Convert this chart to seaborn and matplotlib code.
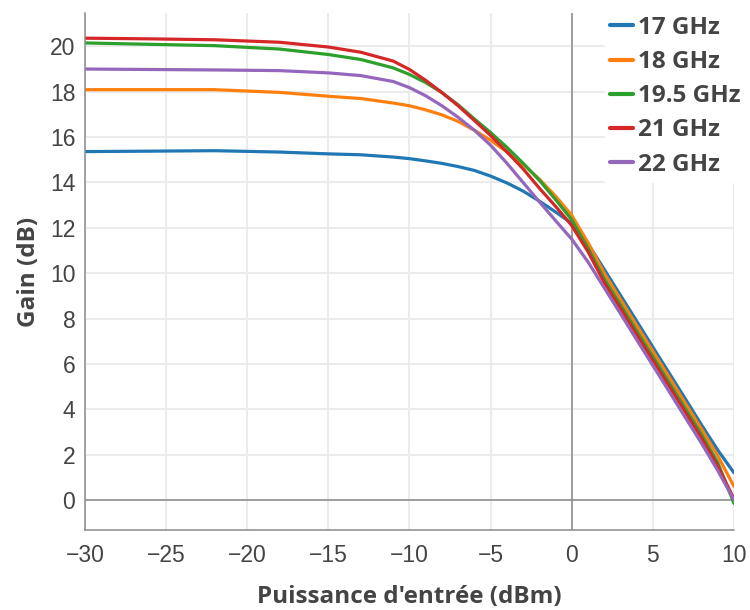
import pandas as pd
import matplotlib.pyplot as plt
import seaborn as sns

# Puissance d'entrée (dBm)
puissance = [-30, -26, -22, -18, -15, -13, -11, -10, -9, -8, -7, -6, -5, -4, -3,
             -2, -1, 0, 1, 2, 3, 4, 5, 6, 7, 8, 9, 10]

# Gain (dB) par fréquence
gain_17 = [15.36, 15.38, 15.40, 15.34, 15.26, 15.22, 15.12, 15.05, 14.95, 14.84,
           14.70, 14.53, 14.28, 13.98, 13.62, 13.18, 12.70, 12.20, 11.30, 10.17,
           9.03, 7.89, 6.74, 5.60, 4.46, 3.31, 2.20, 1.20]
gain_18 = [18.09, 18.09, 18.09, 17.97, 17.80, 17.70, 17.50, 17.38, 17.20, 16.98,
           16.69, 16.30, 15.86, 15.35, 14.80, 14.15, 13.40, 12.55, 11.35, 10.00,
           8.85, 7.70, 6.56, 5.42, 4.27, 3.13, 1.95, 0.60]
gain_195 = [20.15, 20.09, 20.03, 19.88, 19.64, 19.42, 19.05, 18.76, 18.40, 17.96,
            17.42, 16.80, 16.20, 15.55, 14.85, 14.10, 13.25, 12.35, 11.10, 9.75,
            8.61, 7.46, 6.32, 5.18, 4.03, 2.89, 1.65, -0.15]
gain_21 = [20.36, 20.33, 20.29, 20.18, 19.97, 19.74, 19.35, 18.98, 18.50, 17.96,
           17.38, 16.73, 16.07, 15.35, 14.60, 13.75, 12.95, 12.10, 10.95, 9.59,
           8.45, 7.30, 6.16, 5.02, 3.88, 2.73, 1.50, 0.05]
gain_22 = [19.00, 18.98, 18.96, 18.93, 18.83, 18.71, 18.45, 18.18, 17.82, 17.38,
           16.87, 16.30, 15.64, 14.85, 14.00, 13.15, 12.32, 11.50, 10.50, 9.36,
           8.22, 7.07, 5.93, 4.79, 3.64, 2.50, 1.30, 0.00]

frequences = ["17 GHz", "18 GHz", "19.5 GHz", "21 GHz", "22 GHz"]
couleurs = ["#1f77b4", "#ff7f0e", "#2ca02c", "#d62728", "#9467bd"]
gains = [gain_17, gain_18, gain_195, gain_21, gain_22]

df = pd.concat(
    [pd.DataFrame({"puissance": puissance, "gain": g, "freq": f})
     for f, g in zip(frequences, gains)],
    ignore_index=True,
)

sns.set_style("white")
plt.rcParams["font.family"] = ["Liberation Sans", "DejaVu Sans"]

fig = plt.figure(figsize=(7.5, 6.1), dpi=100)
ax = fig.add_axes([85 / 750, 80 / 610, 649 / 750, 517 / 610])

sns.lineplot(data=df, x="puissance", y="gain", hue="freq", palette=couleurs,
             hue_order=frequences, estimator=None, linewidth=2.3, ax=ax)

ax.set_xlim(-30, 10)
ax.set_ylim(-1.32, 21.47)
ax.set_xticks(range(-30, 11, 5))
ax.set_yticks(range(0, 21, 2))
ax.grid(True, color="#ebebeb", linewidth=1.5)
ax.set_axisbelow(True)
ax.axhline(0, color="#8a8a8a", linewidth=1.1, zorder=1.5)
ax.axvline(0, color="#8a8a8a", linewidth=1.1, zorder=1.5)

for side in ["top", "right"]:
    ax.spines[side].set_visible(False)
for side in ["left", "bottom"]:
    ax.spines[side].set_color("#8a8a8a")
    ax.spines[side].set_linewidth(1.1)

ax.tick_params(axis="both", width=1, color="#8a8a8a",
               labelsize=16.5, labelcolor="#444444")
ax.tick_params(axis="y", length=5, direction="out", pad=2)
ax.tick_params(axis="x", length=5, direction="in", pad=10)

ax.set_xlabel("Puissance d'entrée (dBm)", fontsize=17.5, fontweight="bold",
              color="#444444", family="Open Sans", labelpad=13)
ax.set_ylabel("Gain (dB)", fontsize=17.5, fontweight="bold",
              color="#444444", family="Open Sans", labelpad=6)

leg = ax.legend(loc="upper left", bbox_to_anchor=(605 / 750, 1 - 11 / 610),
                bbox_transform=fig.transFigure, frameon=True, fancybox=False,
                edgecolor="white", framealpha=1, borderpad=0.2,
                handlelength=0.95, handletextpad=0.2, labelspacing=0.42,
                borderaxespad=0,
                prop={"family": "Open Sans", "weight": "bold", "size": 17.5})
for t in leg.get_texts():
    t.set_color("#444444")
for line in leg.get_lines():
    line.set_linewidth(3)

fig.savefig("out.png", dpi=100)
